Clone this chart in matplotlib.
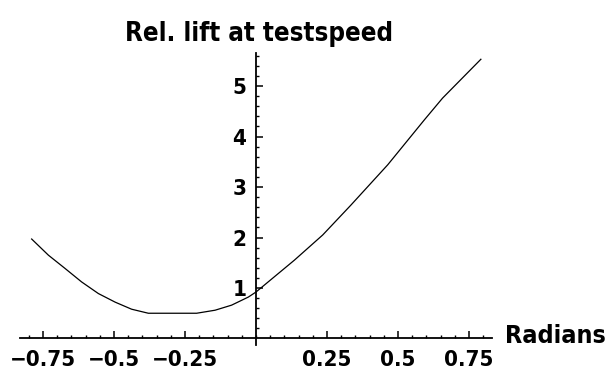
import matplotlib
matplotlib.use("Agg")
import matplotlib.pyplot as plt
import matplotlib.transforms as mtransforms
from matplotlib.ticker import FixedLocator, MultipleLocator

# Data
radians = [-0.790, -0.731, -0.673, -0.614, -0.555, -0.496, -0.438, -0.379,
           -0.209, -0.144, -0.086, -0.027, 0.0, 0.135, 0.235, 0.334, 0.464,
           0.593, 0.657, 0.792]
rel_lift = [1.97, 1.65, 1.39, 1.12, 0.89, 0.72, 0.58, 0.50,
            0.50, 0.56, 0.66, 0.82, 0.92, 1.55, 2.05, 2.64, 3.44,
            4.33, 4.76, 5.53]
x_ticks = [-0.75, -0.5, -0.25, 0.25, 0.5, 0.75]
x_tick_labels = ["\u22120.75", "\u22120.5", "\u22120.25", "0.25", "0.5", "0.75"]
y_ticks = [1, 2, 3, 4, 5]
y_tick_labels = ["1", "2", "3", "4", "5"]
title = "Rel. lift at testspeed"
xlabel = "Radians"

fam = ["DejaVu Sans"]
stretch = "condensed"

fig = plt.figure(figsize=(6.11, 3.71), dpi=100)
ax = fig.add_axes([0.0332, 0.0468, 0.7715, 0.8098])
ax.plot(radians, rel_lift, color="black", lw=0.9)
ax.set_xlim(-0.83, 0.83)
ax.set_ylim(-0.3, 5.65)

for s in ["top", "right"]:
    ax.spines[s].set_visible(False)
ax.spines["left"].set_position(("data", 0))
ax.spines["bottom"].set_position(("data", 0))
ax.spines["left"].set_bounds(-0.13, 5.65)
for s in ["left", "bottom"]:
    ax.spines[s].set_linewidth(1.3)

ax.xaxis.set_major_locator(FixedLocator(x_ticks))
ax.set_xticklabels(x_tick_labels)
ax.xaxis.set_minor_locator(MultipleLocator(0.05))
ax.yaxis.set_major_locator(FixedLocator(y_ticks))
ax.set_yticklabels(y_tick_labels)
y_minor = [k * 0.2 for k in range(1, 29) if k % 5 != 0]
ax.yaxis.set_minor_locator(FixedLocator(y_minor))

ax.tick_params(which="major", direction="in", length=5, width=1.1, labelsize=16)
ax.tick_params(which="minor", direction="in", length=2.5, width=1.0)
ax.tick_params(axis="x", which="major", pad=8)
ax.tick_params(axis="y", which="major", pad=7)
for lab in ax.get_xticklabels() + ax.get_yticklabels():
    lab.set_fontweight("bold")
    lab.set_family(fam)
    lab.set_fontstretch(stretch)

trans = mtransforms.blended_transform_factory(ax.transAxes, ax.transData)
ax.text(1.0275, 0.05, xlabel, transform=trans, ha="left", va="center",
        fontsize=18, fontweight="bold", family=fam, fontstretch=stretch)
fig.text(0.424, 0.8895, title, ha="center", va="baseline", fontsize=18.5,
         fontweight="bold", family=fam, fontstretch=stretch)

fig.savefig("out.png", dpi=100)
